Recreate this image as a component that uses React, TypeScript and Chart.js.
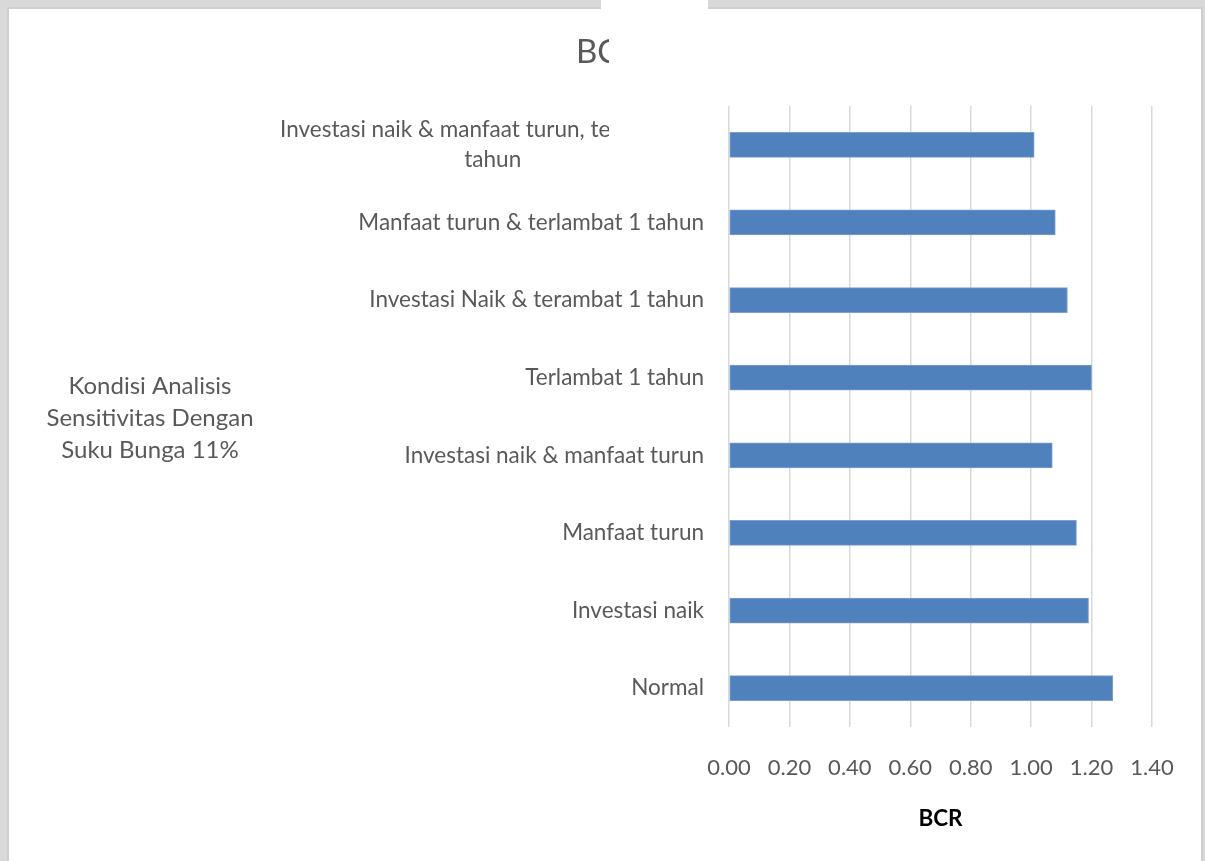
import React, { useEffect, useRef } from 'react';
import { Chart, registerables } from 'chart.js';

Chart.register(...registerables);

// ---- data ----
const categories: (string | string[])[] = [
  ['Investasi naik & manfaat turun, terlambat 1', 'tahun' + '\u2002'.repeat(16) + '\u2009'],
  'Manfaat turun & terlambat 1 tahun',
  'Investasi Naik & terambat 1 tahun',
  'Terlambat 1 tahun',
  'Investasi naik & manfaat turun',
  'Manfaat turun',
  'Investasi naik',
  'Normal',
];
const bcrValues = [1.01, 1.08, 1.12, 1.2, 1.07, 1.15, 1.19, 1.27];
const xTickValues = [0, 0.2, 0.4, 0.6, 0.8, 1.0, 1.2, 1.4];
const chartTitle = 'BCR';
const xAxisTitle = 'BCR';
const yAxisTitleLines = ['Kondisi Analisis', 'Sensitivitas Dengan', 'Suku Bunga 11%'];

const FONT = 'Lato, "Open Sans", sans-serif';
const GREY_TEXT = '#595959';

const yTitlePlugin = {
  id: 'yTitleHorizontal',
  afterDraw(chart: any) {
    const ctx = chart.ctx;
    const area = chart.chartArea;
    ctx.save();
    ctx.font = `24px ${FONT}`;
    ctx.fillStyle = GREY_TEXT;
    ctx.textAlign = 'center';
    ctx.textBaseline = 'middle';
    const cy = (area.top + area.bottom) / 2 + 2;
    yAxisTitleLines.forEach((line, i) => {
      ctx.fillText(line, 150, cy + (i - (yAxisTitleLines.length - 1) / 2) * 32);
    });
    ctx.restore();
  },
};

export default function App() {
  const canvasRef = useRef<HTMLCanvasElement | null>(null);

  useEffect(() => {
    if (!canvasRef.current) return;
    const chart = new Chart(canvasRef.current, {
      type: 'bar',
      data: {
        labels: categories as any,
        datasets: [
          {
            label: 'BCR',
            data: bcrValues,
            backgroundColor: '#4f81bd',
            borderColor: '#7d9fd0',
            borderWidth: 1,
            borderSkipped: false,
            barThickness: 25,
          },
        ],
      },
      options: {
        indexAxis: 'y',
        responsive: false,
        animation: false,
        layout: { padding: { left: 64, right: 53, top: 0, bottom: 0 } },
        plugins: {
          legend: { display: false },
          tooltip: { enabled: false },
          title: {
            display: true,
            text: chartTitle,
            color: GREY_TEXT,
            font: { family: FONT, size: 33, weight: 'normal' as any },
            padding: { top: 33, bottom: 33.4 },
          },
        },
        scales: {
          x: {
            type: 'linear',
            position: 'bottom',
            min: 0,
            max: 1.4,
            afterBuildTicks: (axis: any) => {
              axis.ticks = xTickValues.map((v) => ({ value: v }));
            },
            afterFit: (scale: any) => {
              scale.height = 134;
            },
            ticks: {
              color: GREY_TEXT,
              font: { family: FONT, size: 22 },
              padding: 28,
              maxRotation: 0,
              callback: (v: any) => Number(v).toFixed(2),
            },
            grid: { color: '#d9d9d9', lineWidth: 1.5, drawTicks: false },
            border: { display: false },
            title: {
              display: true,
              text: xAxisTitle,
              color: '#000000',
              font: { family: FONT, size: 22.5, weight: 'bold' as any },
              padding: { top: 22, bottom: 29 },
            },
          },
          y: {
            type: 'category',
            position: 'left',
            afterFit: (scale: any) => {
              scale.width = 665;
            },
            ticks: {
              color: GREY_TEXT,
              font: { family: FONT, size: 22.5, lineHeight: 1.3 },
              padding: 25,
            },
            grid: { display: false, drawTicks: false },
            border: { display: false },
          },
        },
      },
      plugins: [yTitlePlugin],
    });
    return () => chart.destroy();
  }, []);

  return (
    <div
      style={{
        position: 'fixed',
        left: 0,
        top: 0,
        width: 1205,
        height: 861,
        background: '#d9d9d9',
        overflow: 'hidden',
      }}
    >
      <div
        style={{
          position: 'absolute',
          left: 7,
          top: 7,
          width: 1192,
          height: 900,
          background: '#ffffff',
          border: '2px solid #cfcfcf',
        }}
      />
      <div style={{ position: 'absolute', left: 601, top: 0, width: 107, height: 9, background: '#ffffff' }} />
      <canvas
        ref={canvasRef}
        width={1205}
        height={861}
        style={{ position: 'absolute', left: 0, top: 0, width: 1205, height: 861 }}
      />
      <div style={{ position: 'absolute', left: 609, top: 9, width: 99, height: 176, background: '#ffffff' }} />
    </div>
  );
}
